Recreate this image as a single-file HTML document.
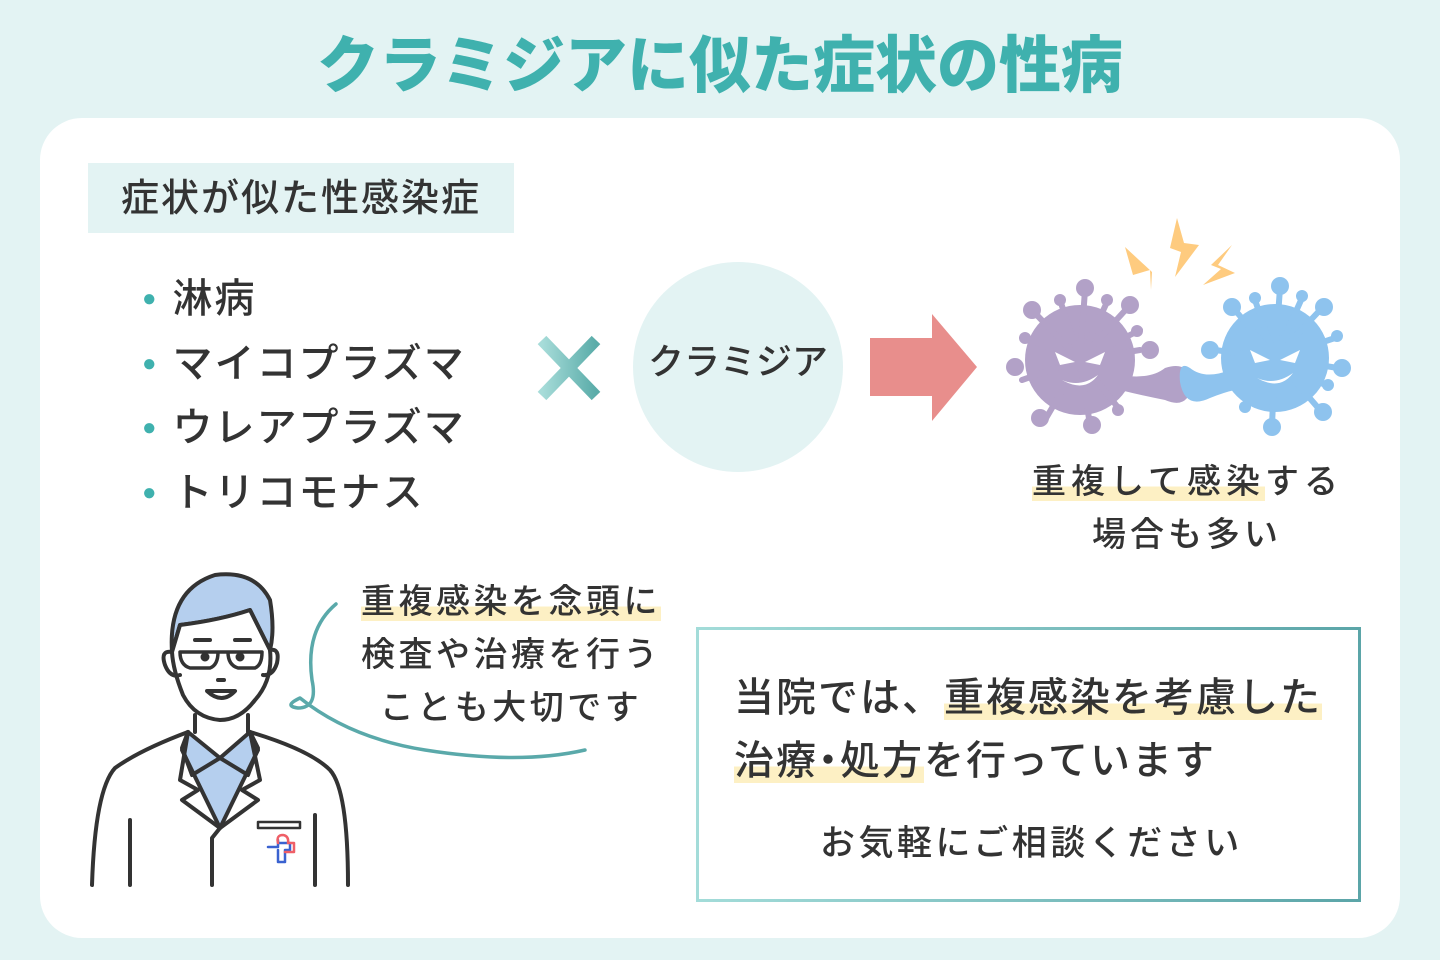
<!DOCTYPE html>
<html><head><meta charset="utf-8"><style>
*{margin:0;padding:0;box-sizing:border-box}
body{width:1440px;height:960px;background:#e3f3f3;position:relative;overflow:hidden;font-family:"Liberation Sans","Noto Sans CJK JP",sans-serif;color:#333}
.a{position:absolute;white-space:nowrap;line-height:1}
.hl{background:linear-gradient(transparent 62%,#fdf0c4 62%)}
</style></head><body>
<div class="a" style="left:0;width:1440px;top:36px;text-align:center;font-size:62px;font-weight:900;color:#3fb1ae;letter-spacing:0px">クラミジアに似た症状の性病</div>
<div class="a" style="left:40px;top:118px;width:1360px;height:820px;background:#fff;border-radius:42px"></div>
<div class="a" style="left:88px;top:163px;width:426px;height:70px;background:#e3f3f3"></div>
<div class="a" style="left:121px;top:180px;font-size:38px;font-weight:500;letter-spacing:2px">症状が似た性感染症</div>
<div class="a" style="left:142px;top:267px;font-size:40px;line-height:63.5px;font-weight:500;letter-spacing:2px">
<div><span style="color:#3fb1ae;font-size:24px;vertical-align:6px;margin-right:14px">●</span>淋病</div>
<div><span style="color:#3fb1ae;font-size:24px;vertical-align:6px;margin-right:14px">●</span>マイコプラズマ</div>
<div><span style="color:#3fb1ae;font-size:24px;vertical-align:6px;margin-right:14px">●</span>ウレアプラズマ</div>
<div><span style="color:#3fb1ae;font-size:24px;vertical-align:6px;margin-right:14px">●</span>トリコモナス</div>
</div>
<svg class="a" style="left:530px;top:330px" width="80" height="76"><defs><linearGradient id="x" x1="0" x2="1"><stop offset="0" stop-color="#a7dcd9"/><stop offset="1" stop-color="#5aaca9"/></linearGradient></defs><path d="M12 10 L66 66 M66 10 L12 66" stroke="url(#x)" stroke-width="12"/></svg>
<div class="a" style="left:633px;top:262px;width:210px;height:210px;border-radius:50%;background:#e3f3f3"></div>
<div class="a" style="left:633px;top:344px;width:210px;text-align:center;font-size:36px;font-weight:500">クラミジア</div>
<svg class="a" style="left:868px;top:312px" width="112" height="112"><path d="M2 26 H64 V2 L109 55 L64 109 V84 H2Z" fill="#e88e8c"/></svg>
<svg class="a" style="left:1000px;top:210px" width="360" height="230">
<g fill="#fecb7f"><path d="M125 37 L152 62 L151 80 L150 60 L133 65Z"/><path d="M177 8 L184 33 L199 35 L175 67 L181 42 L170 38Z"/><path d="M232 35 L218 55 L235 63 L203 75 L221 59 L211 55Z"/></g>
<g fill="#b2a1c7"><circle cx="80" cy="150" r="55"/>
<g stroke="#b2a1c7" stroke-width="6" stroke-linecap="round"><path d="M80 150 L85 80 M80 150 L32 100 M80 150 L130 95 M80 150 L22 170 M80 150 L45 210 M80 150 L90 215 M80 150 L140 140 M80 150 L60 90 M80 150 L108 90 M80 150 L30 130 M80 150 L140 120 M80 150 L120 200"/></g>
<circle cx="85" cy="78" r="9"/><circle cx="32" cy="100" r="9"/><circle cx="130" cy="95" r="9"/><circle cx="15" cy="157" r="9"/><circle cx="40" cy="208" r="9"/><circle cx="92" cy="215" r="9"/><circle cx="150" cy="140" r="9"/><circle cx="60" cy="90" r="6"/><circle cx="107" cy="90" r="6"/><circle cx="25" cy="128" r="6"/><circle cx="137" cy="121" r="6"/><circle cx="118" cy="200" r="6"/>
<path d="M120 165 Q150 170 165 158 Q190 150 192 175 Q188 200 165 190 Q140 185 120 180Z"/></g>
<g fill="#8ec3ee"><circle cx="275" cy="148" r="54"/>
<g stroke="#8ec3ee" stroke-width="6" stroke-linecap="round"><path d="M275 148 L280 78 M275 148 L235 100 M275 148 L322 98 M275 148 L338 158 M275 148 L320 200 M275 148 L272 215 M275 148 L215 140 M275 148 L255 90 M275 148 L302 88 M275 148 L335 128 M275 148 L325 175 M275 148 L245 195"/></g>
<circle cx="280" cy="76" r="9"/><circle cx="232" cy="97" r="9"/><circle cx="324" cy="97" r="9"/><circle cx="342" cy="158" r="9"/><circle cx="323" cy="202" r="9"/><circle cx="272" cy="217" r="9"/><circle cx="210" cy="140" r="9"/><circle cx="255" cy="88" r="6"/><circle cx="302" cy="86" r="6"/><circle cx="337" cy="126" r="6"/><circle cx="328" cy="175" r="6"/><circle cx="245" cy="197" r="6"/>
<path d="M230 160 Q205 170 190 158 Q178 150 180 172 Q185 200 210 188 Q225 182 235 180Z"/></g>
<g fill="#fff"><path d="M55 142 L75 152 L60 155Z"/><path d="M105 142 L85 152 L100 155Z"/><path d="M62 170 Q80 178 98 165 Q85 183 62 170Z"/><path d="M250 140 L270 150 L255 153Z"/><path d="M300 140 L280 150 L295 153Z"/><path d="M257 168 Q275 176 293 163 Q280 181 257 168Z"/></g>
</svg>
<div class="a" style="left:1032px;top:465px;font-size:34px;font-weight:500;letter-spacing:5px"><span class="hl">重複して感染</span>する</div>
<div class="a" style="left:1092px;top:518px;font-size:34px;font-weight:500;letter-spacing:4px">場合も多い</div>
<div class="a" style="left:361px;top:576px;font-size:34px;line-height:53px;text-align:center;font-weight:500;letter-spacing:3.5px"><div><span class="hl">重複感染を念頭に</span></div><div>検査や治療を行う</div><div>ことも大切です</div></div>
<svg class="a" style="left:80px;top:560px" width="520" height="340" fill="none" stroke="#333" stroke-width="4" stroke-linejoin="round" stroke-linecap="round">
<path d="M256 44 Q225 70 232 120 Q238 148 218 148 Q203 146 220 138 Q270 178 345 190 Q440 205 505 190" stroke="#5aa9aa" stroke-width="3.5"/>
<path d="M92 92 Q88 30 135 15 Q175 10 190 40 Q195 70 190 90 L170 50 Q140 60 100 65Z" fill="#b5cfee"/>
<path d="M100 65 Q140 60 170 50 L190 90 Q193 120 175 140 Q160 160 140 160 Q115 158 103 135 Q93 110 92 92Z" fill="#fff"/>
<path d="M92 92 Q80 90 85 105 Q90 118 100 115 M190 90 Q200 88 197 103 Q193 116 183 115"/>
<path d="M100 92 H182 M100 92 Q100 105 110 108 H130 Q138 105 138 92 M148 92 Q148 105 158 108 H175 Q182 105 182 92" stroke-width="3.5"/>
<path d="M115 80 H130 M155 80 H170"/><circle cx="125" cy="97" r="2.5" fill="#333"/><circle cx="160" cy="97" r="2.5" fill="#333"/>
<path d="M127 131 Q142 145 155 131 Z"/><path d="M138 120 H144"/>
<path d="M115 155 V172 M168 155 V172"/>
<path d="M108 172 L140 198 L170 172 L178 190 L140 268 L102 190Z" fill="#b5cfee"/>
<path d="M108 172 L102 188 L112 215 L140 198 M170 172 L178 188 L168 215 L140 198"/>
<path d="M108 172 Q60 190 35 208 Q15 230 12 325 M170 172 Q230 190 250 210 Q268 230 268 325"/>
<path d="M108 172 L100 220 L118 230 L102 240 L140 268 L178 240 L162 230 L180 220 L170 172"/>
<path d="M140 268 L132 278 V325 M50 260 V325 M235 255 V325"/>
<rect x="178" y="262" width="42" height="6" stroke-width="2.5"/>
<path d="M188 287 H198 V280 M198 290 V302 H205 V290 H210 V283 H198" stroke="#3a62d0" stroke-width="2.5"/>
<path d="M198 283 Q196 275 203 275 Q209 276 208 283 H214 V292 H205" stroke="#ef5f67" stroke-width="2.5"/>
</svg>
<div class="a" style="left:696px;top:627px;width:665px;height:275px;border:3px solid;border-image:linear-gradient(90deg,#a3dcd9,#5ba5a8) 1"></div>
<div class="a" style="left:734px;top:678px;font-size:40px;font-weight:500;letter-spacing:2px">当院では、<span class="hl">重複感染を考慮した</span></div>
<div class="a" style="left:734px;top:741px;font-size:40px;font-weight:500;letter-spacing:2px"><span class="hl">治療<span style="margin:0 -10px">・</span>処方</span>を行っています</div>
<div class="a" style="left:820px;top:826px;font-size:35px;font-weight:500;letter-spacing:3.5px">お気軽にご相談ください</div>
</body></html>
